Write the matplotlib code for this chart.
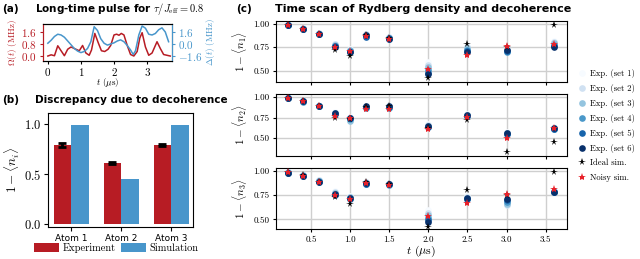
import numpy as np
import matplotlib
matplotlib.use("Agg")
import matplotlib.pyplot as plt

plt.rcParams.update({
    "font.family": "cmr10",
    "mathtext.fontset": "cm",
    "axes.formatter.use_mathtext": True,
    "axes.unicode_minus": True,
    "font.size": 7,
})

RED = "#B71C24"
BLUE = "#4896CB"
SANS = "DejaVu Sans"

# ── (a) pulse ────────────────────────────────────────────────────
t_om = [0.0, 0.1, 0.2, 0.3, 0.4, 0.5, 0.6, 0.7, 0.8, 0.9, 0.95, 1.05, 1.15, 1.25,
        1.32, 1.42, 1.52, 1.62, 1.72, 1.82, 1.9, 2.0, 2.08, 2.15, 2.22, 2.3, 2.4,
        2.5, 2.6, 2.7, 2.78, 2.85, 2.95, 3.05, 3.15, 3.3, 3.4, 3.5, 3.6, 3.7]
omega = [0.0, 0.08, 0.02, 0.68, 0.35, 0.02, 0.45, 0.6, 0.5, 0.4, 0.35, 0.7, 0.2, 0.05,
         0.4, 1.5, 0.9, 0.35, 0.3, 0.45, 0.7, 1.4, 1.45, 1.38, 1.5, 1.4, 0.7,
         0.1, 0.0, 0.3, 1.2, 1.55, 0.6, 0.05, 0.2, 0.95, 0.5, 0.1, 0.05, 0.0]
t_de = [0.0, 0.1, 0.2, 0.3, 0.4, 0.5, 0.6, 0.7, 0.8, 0.9, 1.0, 1.1, 1.2, 1.3, 1.4,
        1.5, 1.6, 1.7, 1.8, 1.9, 2.0, 2.1, 2.2, 2.3, 2.4, 2.5, 2.58, 2.65, 2.75,
        2.85, 2.95, 3.05, 3.15, 3.25, 3.35, 3.45, 3.55, 3.65]
delta = [0.1, 0.5, 1.0, 1.3, 1.2, 0.9, 0.4, -0.1, -0.6, -0.95, -1.15, -1.0, -0.6, 0.3, 2.3,
         1.8, 0.7, 0.1, -0.15, 0.0, 0.15, 0.4, 0.55, 0.3, -0.2, -0.8, -1.4, -0.9, 1.2,
         2.4, 2.1, 1.3, 1.2, 1.4, 1.9, 2.15, 1.6, 0.3]

# ── (b) bars ─────────────────────────────────────────────────────
atoms = ["Atom 1", "Atom 2", "Atom 3"]
exp_vals = [0.79, 0.61, 0.79]
exp_err = [0.02, 0.01, 0.01]
sim_vals = [0.99, 0.45, 0.99]

# ── (c) time scan ────────────────────────────────────────────────
times = [0.2, 0.4, 0.6, 0.8, 1.0, 1.2, 1.5, 2.0, 2.5, 3.0, 3.6]
n1_sets = [
    [0.99, 0.96, 0.90, 0.78, 0.73, 0.89, 0.85, 0.59, 0.76, 0.72, 0.82],
    [0.99, 0.96, 0.90, 0.78, 0.72, 0.89, 0.86, 0.56, 0.75, 0.73, 0.81],
    [0.99, 0.95, 0.89, 0.77, 0.72, 0.88, 0.85, 0.54, 0.74, 0.71, 0.80],
    [0.99, 0.95, 0.89, 0.76, 0.71, 0.87, 0.84, 0.51, 0.72, 0.70, 0.77],
    [0.99, 0.94, 0.89, 0.76, 0.70, 0.86, 0.85, 0.48, 0.71, 0.71, 0.76],
    [0.99, 0.94, 0.89, 0.75, 0.70, 0.88, 0.84, 0.46, 0.70, 0.72, 0.75],
]
n1_ideal = [0.99, 0.95, 0.89, 0.72, 0.66, 0.88, 0.85, 0.42, 0.79, 0.75, 0.99]
n1_noisy = [0.99, 0.945, 0.89, 0.75, 0.71, 0.87, 0.84, 0.52, 0.67, 0.76, 0.78]

n2_sets = [
    [0.99, 0.95, 0.90, 0.82, 0.76, 0.89, 0.89, 0.67, 0.79, 0.57, 0.63],
    [0.99, 0.95, 0.89, 0.81, 0.72, 0.88, 0.88, 0.66, 0.78, 0.56, 0.62],
    [0.99, 0.95, 0.89, 0.81, 0.71, 0.88, 0.88, 0.65, 0.78, 0.56, 0.62],
    [0.99, 0.94, 0.89, 0.80, 0.73, 0.87, 0.87, 0.64, 0.77, 0.55, 0.61],
    [0.99, 0.95, 0.89, 0.80, 0.74, 0.88, 0.88, 0.63, 0.77, 0.55, 0.61],
    [0.99, 0.95, 0.89, 0.81, 0.75, 0.89, 0.89, 0.65, 0.78, 0.56, 0.62],
]
n2_ideal = [0.99, 0.95, 0.89, 0.75, 0.73, 0.88, 0.89, 0.62, 0.72, 0.33, 0.45]
n2_noisy = [0.99, 0.95, 0.89, 0.77, 0.74, 0.86, 0.85, 0.61, 0.76, 0.50, 0.62]

n3_sets = [
    [0.99, 0.96, 0.91, 0.79, 0.74, 0.89, 0.87, 0.60, 0.74, 0.66, 0.79],
    [0.99, 0.96, 0.91, 0.78, 0.73, 0.89, 0.87, 0.57, 0.73, 0.65, 0.79],
    [0.99, 0.96, 0.90, 0.77, 0.73, 0.88, 0.86, 0.54, 0.72, 0.66, 0.78],
    [0.98, 0.95, 0.90, 0.76, 0.72, 0.87, 0.85, 0.51, 0.71, 0.68, 0.78],
    [0.98, 0.95, 0.89, 0.75, 0.71, 0.87, 0.86, 0.49, 0.71, 0.70, 0.78],
    [0.98, 0.95, 0.89, 0.76, 0.72, 0.88, 0.87, 0.47, 0.72, 0.71, 0.78],
]
n3_ideal = [0.99, 0.96, 0.89, 0.73, 0.66, 0.885, 0.86, 0.42, 0.80, 0.75, 0.99]
n3_noisy = [0.99, 0.95, 0.89, 0.75, 0.705, 0.88, 0.85, 0.53, 0.67, 0.76, 0.81]

set_colors = plt.cm.Blues(np.linspace(0.0, 1.0, 6))

fig = plt.figure(figsize=(6.4, 2.59), dpi=100)

# ── panel (a)
axa = fig.add_axes([0.067, 0.7645, 0.2016, 0.143])
axa.plot(t_om, omega, color=RED, lw=1.1)
axa.set_xlim(-0.15, 3.75)
axa.set_ylim(-0.33, 2.13)
axa.set_yticks([0.0, 0.8, 1.6])
axa.set_xticks([0, 1, 2, 3])
axa.tick_params(axis="y", colors=RED, labelsize=8, length=2.5, pad=2)
axa.tick_params(axis="x", labelsize=8, length=2.5, pad=1)
axa.spines["left"].set_color(RED)
axa.set_ylabel(r"$\Omega(t)$ (MHz)", color=RED, fontsize=6.5, labelpad=1)
axa.set_xlabel(r"$t$ ($\mu$s)", fontsize=6.5, labelpad=-1)
axb2 = axa.twinx()
axb2.plot(t_de, delta, color=BLUE, lw=1.1)
axb2.set_ylim(-2.27, 2.67)
axb2.set_yticks([-1.6, 0.0, 1.6])
axb2.tick_params(axis="y", colors=BLUE, labelsize=8, length=2.5, pad=2)
axb2.spines["right"].set_color(BLUE)
axb2.spines["left"].set_color(RED)
axb2.set_ylabel(r"$\Delta(t)$ (MHz)", color=BLUE, fontsize=6.5, labelpad=1)
fig.text(0.003, 0.965, "(a)", family=SANS, fontweight="bold", fontsize=7.5, va="center")
fig.text(0.055, 0.965, r"Long-time pulse for $\tau/J_{\rm eff} = 0.8$", family=SANS,
         fontweight="bold", fontsize=7.5, va="center")

# ── panel (b)
axb = fig.add_axes([0.075, 0.1236, 0.2266, 0.440])
x = np.arange(len(atoms))
w = 0.35
axb.bar(x - w / 2, exp_vals, w, color=RED, label="Experiment",
        yerr=exp_err, error_kw=dict(ecolor="black", elinewidth=2, capsize=3, capthick=2))
axb.bar(x + w / 2, sim_vals, w, color=BLUE, label="Simulation")
axb.set_xticks(x)
axb.set_xticklabels(atoms, family=SANS, fontsize=6.5)
axb.set_xlim(-0.46, 2.44)
axb.set_ylim(-0.03, 1.11)
axb.set_yticks([0.0, 0.5, 1.0])
axb.tick_params(axis="y", labelsize=9, length=3, pad=2)
axb.tick_params(axis="x", length=3, pad=2)
axb.set_ylabel(r"$1-\langle n_i\rangle$", fontsize=9.5)
axb.yaxis.set_label_coords(-0.18, 0.5)
axb.legend(loc="upper center", bbox_to_anchor=(0.47, -0.1), ncol=2, frameon=False,
           fontsize=7.5, handlelength=2.4, handleheight=1.0, columnspacing=0.5,
           handletextpad=0.3, borderaxespad=0)
fig.text(0.003, 0.612, "(b)", family=SANS, fontweight="bold", fontsize=7.5, va="center")
fig.text(0.055, 0.612, "Discrepancy due to decoherence", family=SANS,
         fontweight="bold", fontsize=7.5, va="center")

# ── panel (c)
rows = [
    (n1_sets, n1_ideal, n1_noisy, (0.38, 1.03), r"$1-\langle n_1\rangle$", [0.431, 0.6834, 0.4547, 0.2355]),
    (n2_sets, n2_ideal, n2_noisy, (0.28, 1.04), r"$1-\langle n_2\rangle$", [0.431, 0.3977, 0.4547, 0.2394]),
    (n3_sets, n3_ideal, n3_noisy, (0.40, 1.03), r"$1-\langle n_3\rangle$", [0.431, 0.1158, 0.4547, 0.2355]),
]
axes_c = []
for i, (sets, ideal, noisy, ylim, ylab, pos) in enumerate(rows):
    ax = fig.add_axes(pos)
    for k, s in enumerate(sets):
        ax.plot(times, s, "o", color=set_colors[k], ms=4.8, mew=0,
                label=f"Exp. (set {k + 1})", zorder=3)
    ax.plot(times, ideal, "*", color="black", ms=5.5, mew=0, label="Ideal sim.", zorder=4)
    ax.plot(times, noisy, "*", color="#E8212A", ms=6, mew=0, label="Noisy sim.", zorder=5)
    ax.set_xlim(0.05, 3.77)
    ax.set_ylim(*ylim)
    ax.set_xticks([0.5, 1.0, 1.5, 2.0, 2.5, 3.0, 3.5])
    ax.set_yticks([0.5, 0.75, 1.0])
    ax.yaxis.set_major_formatter(matplotlib.ticker.FormatStrFormatter("%.2f"))
    ax.xaxis.set_major_formatter(matplotlib.ticker.FormatStrFormatter("%.1f"))
    ax.grid(True, color="#cfcfcf", lw=1)
    ax.set_axisbelow(True)
    ax.tick_params(labelsize=6.5, length=2.5, pad=2)
    ax.set_ylabel(ylab, fontsize=8, labelpad=3)
    if i < 2:
        ax.tick_params(labelbottom=False)
    else:
        ax.set_xlabel(r"$t$ ($\mu$s)", fontsize=8.5, labelpad=0)
    axes_c.append(ax)

handles, labels = axes_c[0].get_legend_handles_labels()
fig.legend(handles, labels, loc="upper left", bbox_to_anchor=(0.902, 0.735), frameon=False,
           fontsize=6.2, handlelength=1.0, handletextpad=0.5, labelspacing=0.7,
           borderaxespad=0, borderpad=0)
fig.text(0.369, 0.965, "(c)", family=SANS, fontweight="bold", fontsize=7.5, va="center")
fig.text(0.43, 0.965, "Time scan of Rydberg density and decoherence", family=SANS,
         fontweight="bold", fontsize=8, va="center")

fig.savefig("out.png", dpi=100)
